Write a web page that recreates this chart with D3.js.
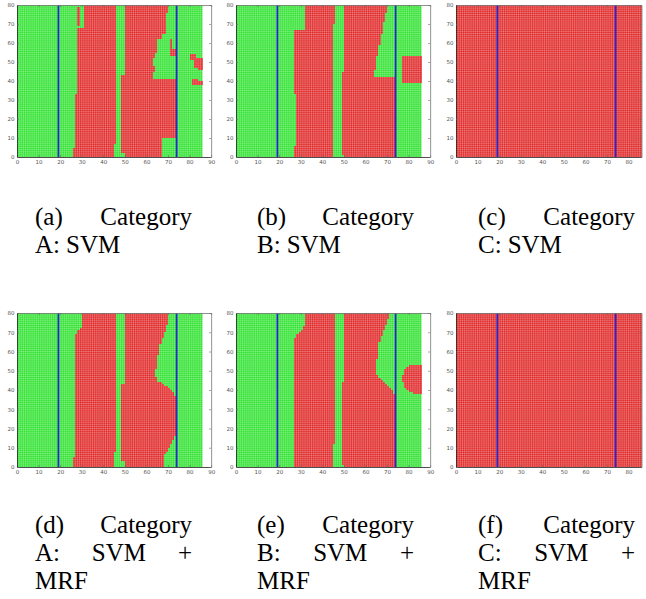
<!DOCTYPE html>
<html><head><meta charset="utf-8">
<script src="https://cdn.jsdelivr.net/npm/d3@7"></script>
<style>body{margin:0;background:#fff}</style>
</head><body><svg id="c" width="646" height="599"></svg>
<script>
// ---------- data ----------
const xTicksWide = [0,10,20,30,40,50,60,70,80,90];
const xTicksTight = [0,10,20,30,40,50,60,70,80];
const yTicks = [0,10,20,30,40,50,60,70,80];
const gridCols = 86, gridRows = 80;
const boundaryLines = [19.2, 74.0];
const captionLabels = ["(a)","(b)","(c)","(d)","(e)","(f)"];
const captionCategories = ["A:","B:","C:","A:","B:","C:"];
const captionMethods = [["SVM"],["SVM"],["SVM"],["SVM","+","MRF"],["SVM","+","MRF"],["SVM","+","MRF"]];

// red (class) regions, polygons in data coordinates [x, y]
const redA = [
  [[31.5,80],[46,80],[46,7],[44.7,7],[44.7,0],[26.4,0],[26.4,5.4],[27.2,5.4],[27.2,33.5],[28,33.5],[28,67.7],[31.5,67.7]],
  [[28.4,68.6],[29.5,68.6],[29.5,79],[28.4,79]],
  [[49.6,80],[70.5,80],[70.5,76.5],[69.4,76.5],[69.4,71.2],[68.6,71.2],[68.6,65],[67.5,65],[67.5,62.5],[65.5,62.5],[65.5,58],[64.8,58],[64.8,54.6],[64.3,54.6],[64.3,52],[63.5,52],[63.5,48.4],[64,48.4],[64,45],[63.5,45],[63.5,41.4],[73.6,41.4],[73.6,9.8],[67.5,9.8],[67.5,0],[49.6,0],[49.6,1.6],[48.5,1.6],[48.5,43.2],[49.6,43.2]],
  [[70.6,52.8],[71.7,52.8],[71.7,61.6],[70.6,61.6]],
  [[71.7,52.8],[73.7,52.8],[73.7,57],[71.7,57]],
  [[80.2,53.7],[83.3,53.7],[83.3,52],[86,52],[86,46],[84.5,46],[84.5,47.5],[81.8,47.5],[81.8,51],[80.2,51]],
  [[81.5,41],[83.6,41],[83.6,39.6],[86,39.6],[86,38.4],[81.5,38.4]]
];
const redB = [
  [[31.9,80],[46.3,80],[46.3,70],[45.5,70],[45.5,11.6],[44.6,11.6],[44.6,0],[26.9,0],[26.9,5.6],[27.8,5.6],[27.8,33.4],[26.9,33.4],[26.9,67.3],[31.9,67.3]],
  [[49.7,80],[70.5,80],[70.5,76],[69.4,76],[69.4,70.8],[68.2,70.8],[68.2,64.7],[67,64.7],[67,58.6],[65.9,58.6],[65.9,53.4],[64.8,53.4],[64.8,45.6],[63.7,45.6],[63.7,41.7],[73.8,41.7],[73.8,0],[50.2,0],[50.2,1.2],[48.6,1.2],[48.6,44.7],[49.7,44.7]],
  [[76.7,53.4],[86,53.4],[86,38.6],[76.7,38.6]]
];
const redC = [
  [[0,0],[86,0],[86,80],[0,80]]
];
const redD = [
  [[30.4,80],[46.2,80],[46.2,7.8],[45,7.8],[45,0],[26.4,0],[26.4,5.2],[27.4,5.2],[27.4,34],[26.9,34],[26.9,67],[27.5,69],[28.5,71],[30.4,72.5]],
  [[49.6,80],[70.5,80],[70.5,76.5],[69.4,73.9],[68.5,70.4],[67.5,67],[66.6,64.3],[65.8,60],[64.9,54.8],[64.4,49.6],[64.4,47],[65.5,44.3],[67.8,42.6],[71,40.9],[72.8,38.3],[73.6,36.5],[73.6,16.5],[72.8,14.8],[71.7,12.2],[70.2,9.6],[68.6,7],[67.9,4.3],[67.5,0],[49.6,0],[49.6,2.6],[48.5,2.6],[48.5,42.6],[49.6,42.6]]
];
const redE = [
  [[31.6,80],[46.3,80],[46.3,12.2],[44.6,12.2],[44.6,0],[26.9,0],[26.9,5.2],[27.3,5.2],[27.3,33.9],[26.9,33.9],[26.9,65.2],[27.6,67.8],[29.2,69.6],[30.7,71.3],[31.6,73.5]],
  [[49.7,80],[70.8,80],[70.8,77.4],[69.8,74.8],[68.5,71.3],[67.4,67.8],[66.4,64.3],[65.9,60],[65.4,54.8],[64.8,52.2],[65,49.6],[65.9,47],[67.4,45.2],[69.8,42.6],[72.1,40],[73.6,38.3],[73.9,36.5],[73.9,0],[50,0],[50,1.2],[48.6,1.2],[48.6,44.3],[49.7,44.3]],
  [[86,53.4],[82,53.4],[79.5,52.3],[78,50],[77.2,46],[78,42],[79.8,39.5],[82,38.4],[86,38.4]]
];
const redF = [
  [[0,0],[86,0],[86,80],[0,80]]
];
const redRegions = [redA, redB, redC, redD, redE, redF];

// ---------- layout ----------
const GREEN = "rgb(42,226,42)", RED = "rgb(224,32,32)", BLUE = "#2626d6";
const unitW = 2.157;
const colLeft = [17, 236, 456];
const rowTop = [5, 313], rowBottom = [157, 467];
const xMaxes = [90, 90, 86, 90, 90, 86];
const captionX = [35, 257, 478];
const captionW = 157;
const captionBase = [225, 533];
const lineGap = 28;

const svg = d3.select("#c");

redRegions.forEach((polys, p) => {
  const col = p % 3, row = Math.floor(p / 3);
  const xMax = xMaxes[p];
  const x = d3.scaleLinear().domain([0, xMax]).range([colLeft[col], colLeft[col] + xMax * unitW]);
  const y = d3.scaleLinear().domain([0, 80]).range([rowBottom[row], rowTop[row]]);
  const g = svg.append("g");

  // green background over the sampled grid
  g.append("rect").attr("x", x(0)).attr("y", y(gridRows))
    .attr("width", x(gridCols) - x(0)).attr("height", y(0) - y(gridRows))
    .attr("fill", GREEN);

  // red cells
  let d = "";
  for (let i = 0; i < gridCols; i++) {
    for (let j = 0; j < gridRows; j++) {
      const cx = i + 0.5, cy = j + 0.5;
      if (polys.some(poly => d3.polygonContains(poly, [cx, cy]))) {
        d += `M${x(i)},${y(j+1)}H${x(i+1)}V${y(j)}H${x(i)}Z`;
      }
    }
  }
  g.append("path").attr("d", d).attr("fill", RED).attr("shape-rendering", "crispEdges");

  // marker texture (gaps between plotted cell markers)
  const tex = g.append("g").attr("stroke", "#fff").attr("stroke-opacity", 0.34).attr("stroke-width", 0.7);
  d3.range(0, gridCols + 1).forEach(i => {
    tex.append("line").attr("x1", x(i)).attr("x2", x(i)).attr("y1", y(0)).attr("y2", y(gridRows));
  });
  d3.range(0, gridRows + 1).forEach(j => {
    tex.append("line").attr("x1", x(0)).attr("x2", x(gridCols)).attr("y1", y(j)).attr("y2", y(j));
  });

  // blue boundary lines
  boundaryLines.forEach(b => {
    g.append("line").attr("x1", x(b)).attr("x2", x(b)).attr("y1", y(0)).attr("y2", y(80))
      .attr("stroke", BLUE).attr("stroke-width", 1.7);
  });

  // axes (box with inward ticks)
  const xt = xMax === 90 ? xTicksWide : xTicksTight;
  const styleAxis = (sel, color) => {
    sel.selectAll("path").attr("stroke", color).attr("stroke-width", 0.8);
    sel.selectAll("line").attr("stroke", "#666").attr("stroke-width", 0.6);
    sel.selectAll("text").attr("fill", "#555").attr("font-size", 5.5).attr("font-family", "DejaVu Sans");
  };
  const ab = g.append("g").attr("transform", `translate(0,${y(0)})`)
    .call(d3.axisBottom(x).tickValues(xt).tickSize(-2).tickSizeOuter(0).tickPadding(3));
  styleAxis(ab, "#222");
  const at = g.append("g").attr("transform", `translate(0,${y(80)})`)
    .call(d3.axisTop(x).tickValues(xt).tickSize(-2).tickSizeOuter(0).tickFormat(""));
  styleAxis(at, "#777");
  const al = g.append("g").attr("transform", `translate(${x(0)},0)`)
    .call(d3.axisLeft(y).tickValues(yTicks).tickSize(-2).tickSizeOuter(0).tickPadding(2.5));
  styleAxis(al, "#222");
  const ar = g.append("g").attr("transform", `translate(${x(xMax)},0)`)
    .call(d3.axisRight(y).tickValues(yTicks).tickSize(-2).tickSizeOuter(0).tickFormat(""));
  styleAxis(ar, "#777");

  // caption, justified like the LaTeX subcaption
  const words1 = [captionLabels[p], "Category"];
  const words2 = [captionCategories[p]].concat(captionMethods[p]);
  let lines;
  if (words2.length === 4) lines = [words1, words2.slice(0, 3), [words2[3]]];
  else lines = [words1, words2];
  const cx0 = captionX[col];
  lines.forEach((ws, li) => {
    const by = captionBase[row] + li * lineGap;
    const last = li === lines.length - 1;
    const texts = ws.map(w => svg.append("text").text(w).attr("y", by)
      .attr("font-family", "'Liberation Serif', 'Times New Roman', serif").attr("font-size", 25).attr("fill", "#000"));
    if (last) {
      let cur = cx0;
      texts.forEach(t => { t.attr("x", cur); cur += t.node().getComputedTextLength() + 6; });
    } else {
      const widths = texts.map(t => t.node().getComputedTextLength());
      const total = d3.sum(widths);
      const gap = (captionW - total) / (ws.length - 1);
      let cur = cx0;
      texts.forEach((t, k) => { t.attr("x", cur); cur += widths[k] + gap; });
    }
  });
});
</script>
</body></html>
